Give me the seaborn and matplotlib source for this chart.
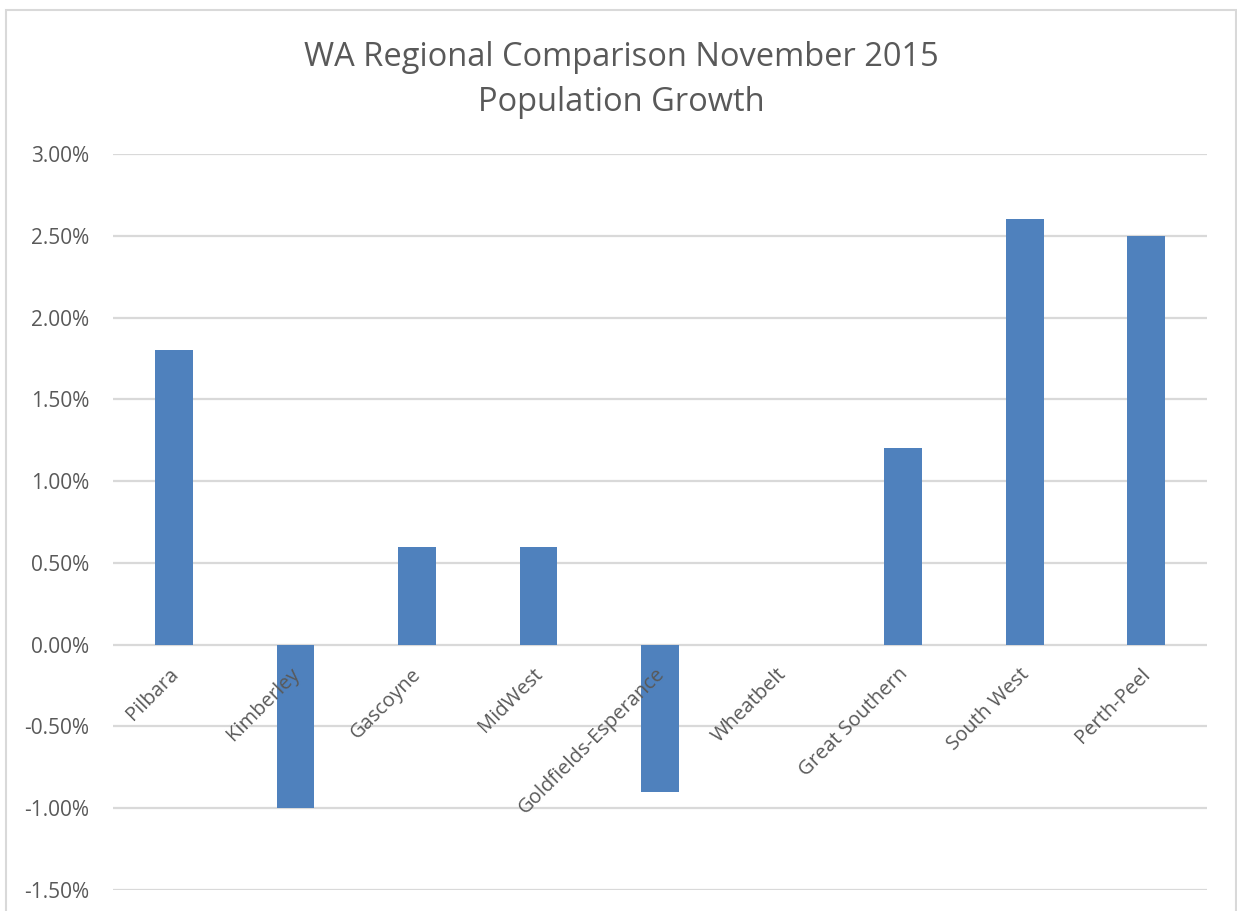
import matplotlib
matplotlib.use("Agg")
import matplotlib.pyplot as plt
from matplotlib.patches import Rectangle
from matplotlib.ticker import FuncFormatter, MultipleLocator
import pandas as pd
import seaborn as sns

# ─── Data ────────────────────────────────────────────────────────────────
regions = ["Pilbara", "Kimberley", "Gascoyne", "MidWest", "Goldfields-Esperance",
           "Wheatbelt", "Great Southern", "South West", "Perth-Peel"]
growth_pct = [1.8, -1.0, 0.6, 0.6, -0.9, 0.0, 1.2, 2.6, 2.5]

title_lines = ["WA Regional Comparison November 2015", "Population Growth"]

BAR = "#4F81BD"
TEXT = "#595959"
GRID = "#D9D9D9"

sns.set_theme(style="white")
plt.rcParams["font.family"] = ["Open Sans", "DejaVu Sans"]

df = pd.DataFrame({"region": regions, "growth": growth_pct})

fig = plt.figure(figsize=(12.37, 9.11), dpi=100)
ax = fig.add_axes([0.0914, 0.023, 0.8844, 0.808])

sns.barplot(data=df, x="region", y="growth", color=BAR, width=0.31,
            saturation=1, linewidth=0, ax=ax, zorder=3)

ax.set_ylim(-1.5, 3.0)
ax.set_xlim(-0.5, len(regions) - 0.5)
ax.yaxis.set_major_locator(MultipleLocator(0.5))
ax.yaxis.set_major_formatter(FuncFormatter(lambda v, _: f"{v:.2f}%"))
ax.grid(axis="y", color=GRID, linewidth=1.6, zorder=0)
ax.set_axisbelow(True)
for s in ax.spines.values():
    s.set_visible(False)
ax.set_xlabel("")
ax.set_ylabel("")
ax.tick_params(axis="y", length=0, pad=17, labelsize=15, labelcolor=TEXT)
ax.tick_params(axis="x", length=0)

# category labels hang just under the zero line, rotated like Excel does
ax.set_xticklabels([])
for i, name in enumerate(regions):
    ax.annotate(name, xy=(i, 0), xytext=(-4, -14), textcoords="offset points",
                rotation=45, ha="right", va="top", rotation_mode="anchor",
                fontsize=14.5, color=TEXT)

for k, line in enumerate(title_lines):
    fig.text(0.502, 0.937 - k * 0.05, line, ha="center", va="center",
             fontsize=23.5, color=TEXT)

# chart-area border
fig.patches.append(Rectangle((6 / 1237, -0.05), 1230 / 1237, 1.05 - 10 / 911,
                             transform=fig.transFigure, fill=False,
                             edgecolor=GRID, linewidth=1.5))

fig.savefig("out.png", dpi=100)
